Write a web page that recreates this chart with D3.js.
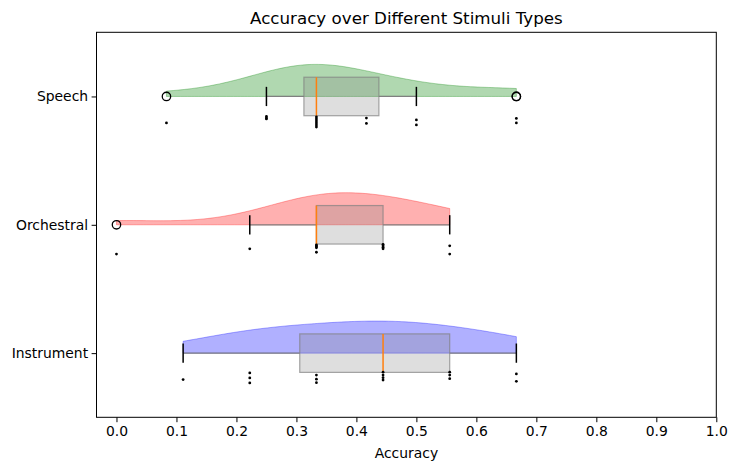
<!DOCTYPE html>
<html><head><meta charset="utf-8">
<script src="https://cdn.jsdelivr.net/npm/d3@7"></script>
<style>
body{margin:0;background:#fff;}
svg{font-family:"DejaVu Sans",sans-serif;}
</style></head>
<body><svg id="c" width="736" height="470"></svg>
<script>
// ---- data ----
const categories = ["Speech", "Orchestral", "Instrument"];
const colors = ["#008000", "#ff0000", "#0000ff"];
const speechValues = [1/12, 3/12, 3/12, 3/12, 4/12, 4/12, 4/12, 4/12, 4/12, 4/12, 5/12, 5/12, 6/12, 6/12, 8/12, 8/12];
const speechJitter = [0.206, 0.156, 0.168, 0.175, 0.160, 0.175, 0.191, 0.206, 0.222, 0.238, 0.168, 0.210, 0.183, 0.222, 0.171, 0.206];
const orchestralValues = [0, 2/9, 3/9, 3/9, 3/9, 3/9, 3/9, 4/9, 4/9, 4/9, 4/9, 5/9, 5/9];
const orchestralJitter = [0.228, 0.187, 0.156, 0.164, 0.171, 0.179, 0.214, 0.152, 0.164, 0.175, 0.187, 0.164, 0.228];
const instrumentValues = [1/9, 2/9, 2/9, 2/9, 3/9, 3/9, 3/9, 4/9, 4/9, 4/9, 4/9, 5/9, 5/9, 5/9, 6/9, 6/9];
const instrumentJitter = [0.206, 0.154, 0.193, 0.232, 0.171, 0.203, 0.230, 0.148, 0.171, 0.191, 0.210, 0.148, 0.171, 0.199, 0.162, 0.220];
const xTicks = [0, 0.1, 0.2, 0.3, 0.4, 0.5, 0.6, 0.7, 0.8, 0.9, 1.0];
const titleText = "Accuracy over Different Stimuli Types";
const xLabel = "Accuracy";

const allValues = [speechValues, orchestralValues, instrumentValues];
const allJitter = [speechJitter, orchestralJitter, instrumentJitter];

// ---- layout ----
const L = 96.5, R = 716.3, T = 32.3, B = 417.3;
const svg = d3.select("#c");
const x = d3.scaleLinear().domain([-0.0333, 1.0]).range([L, R]);
const y = d3.scaleLinear().domain([-0.5, 2.5]).range([T, B]);

function kde(data) {
  const n = data.length;
  const sd = d3.deviation(data);
  const bw = Math.pow(n, -0.2) * sd;
  const mn = d3.min(data), mx = d3.max(data);
  const pts = d3.range(100).map(i => mn + i * (mx - mn) / 99);
  const vals = pts.map(c => d3.sum(data, xi => Math.exp(-0.5 * ((c - xi) / bw) ** 2)));
  const m = d3.max(vals);
  return pts.map((c, i) => ({c: c, v: vals[i] / m * 0.25}));
}

function boxStats(data) {
  const s = data.slice().sort(d3.ascending);
  const q1 = d3.quantileSorted(s, 0.25), med = d3.quantileSorted(s, 0.5), q3 = d3.quantileSorted(s, 0.75);
  const iqr = q3 - q1;
  const lo = q1 - 1.5 * iqr, hi = q3 + 1.5 * iqr;
  const wlo = d3.min(s.filter(v => v >= lo)), whi = d3.max(s.filter(v => v <= hi));
  const fliers = s.filter(v => v < lo || v > hi);
  return {q1, med, q3, wlo, whi, fliers};
}

const g = svg.append("g");

allValues.forEach((data, i) => {
  const pos = i;
  const dens = kde(data);
  const area = d3.area().x(d => x(d.c)).y0(y(pos)).y1(d => y(pos - d.v));
  g.append("path").attr("d", area(dens))
    .attr("fill", colors[i]).attr("fill-opacity", 0.31)
    .attr("stroke", colors[i]).attr("stroke-opacity", 0.31).attr("stroke-width", 1);

  const st = boxStats(data);
  g.append("line").attr("x1", x(st.wlo)).attr("x2", x(st.q1)).attr("y1", y(pos)).attr("y2", y(pos))
    .attr("stroke", "#808080").attr("stroke-width", 1.2);
  g.append("line").attr("x1", x(st.q3)).attr("x2", x(st.whi)).attr("y1", y(pos)).attr("y2", y(pos))
    .attr("stroke", "#808080").attr("stroke-width", 1.2);
  g.append("rect").attr("x", x(st.q1)).attr("width", x(st.q3) - x(st.q1))
    .attr("y", y(pos - 0.15)).attr("height", y(pos + 0.15) - y(pos - 0.15))
    .attr("fill", "#808080").attr("fill-opacity", 0.26)
    .attr("stroke", "#808080").attr("stroke-opacity", 0.7).attr("stroke-width", 1.2);
  [st.wlo, st.whi].forEach(v => {
    g.append("line").attr("x1", x(v)).attr("x2", x(v)).attr("y1", y(pos - 0.075)).attr("y2", y(pos + 0.075))
      .attr("stroke", "#000").attr("stroke-width", 1.5);
  });
  g.append("line").attr("x1", x(st.med)).attr("x2", x(st.med)).attr("y1", y(pos - 0.15)).attr("y2", y(pos + 0.15))
    .attr("stroke", "#ff7f0e").attr("stroke-width", 1.5);
  st.fliers.forEach(v => {
    g.append("circle").attr("cx", x(v)).attr("cy", y(pos)).attr("r", 4.2)
      .attr("fill", "none").attr("stroke", "#000").attr("stroke-width", 1.3);
  });
  data.forEach((v, j) => {
    g.append("circle").attr("cx", x(v)).attr("cy", y(pos + allJitter[i][j])).attr("r", 1.4).attr("fill", "#000");
  });
});

svg.append("rect").attr("x", L).attr("y", T).attr("width", R - L).attr("height", B - T)
  .attr("fill", "none").attr("stroke", "#000").attr("stroke-width", 1);

const xa = svg.append("g").attr("transform", `translate(0,${B})`)
  .call(d3.axisBottom(x).tickValues(xTicks).tickFormat(d3.format(".1f")).tickSize(4.9).tickPadding(3.5));
xa.select(".domain").remove();
xa.selectAll("text").attr("font-size", 13.9).attr("font-family", "DejaVu Sans").attr("fill", "#000");
xa.selectAll("line").attr("stroke", "#000");

const ya = svg.append("g").attr("transform", `translate(${L},0)`)
  .call(d3.axisLeft(y).tickValues([0, 1, 2]).tickFormat(i => categories[i]).tickSize(4.9).tickPadding(3.5));
ya.select(".domain").remove();
ya.selectAll("text").attr("font-size", 13.9).attr("font-family", "DejaVu Sans").attr("fill", "#000");
ya.selectAll("line").attr("stroke", "#000");

svg.append("text").attr("x", (L + R) / 2).attr("y", 24).attr("text-anchor", "middle")
  .attr("font-size", 16.7).text(titleText);
svg.append("text").attr("x", (L + R) / 2).attr("y", 458).attr("text-anchor", "middle")
  .attr("font-size", 13.9).text(xLabel);
</script></body></html>
